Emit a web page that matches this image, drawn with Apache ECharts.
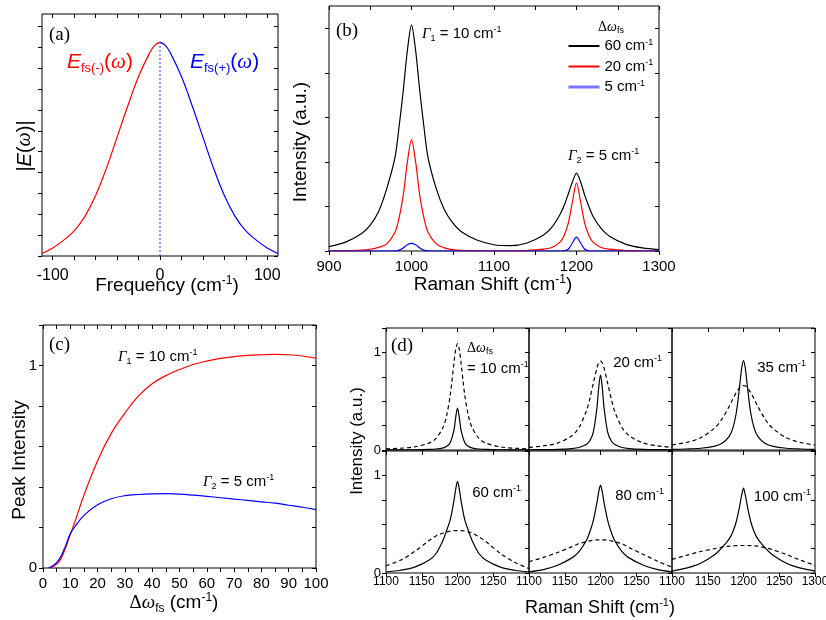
<!DOCTYPE html>
<html><head><meta charset="utf-8">
<script src="https://cdn.jsdelivr.net/npm/echarts@6/dist/echarts.min.js"></script>
<style>html,body{margin:0;padding:0;background:#fff}#c{width:826px;height:620px}</style>
</head><body><div id="c"></div>
<script>
// ---------- Panel (a) data ----------
const aFreqNeg = [-110,-100,-90,-80,-70,-60,-50,-40,-30,-20,-10,-5,0];
const aEneg    = [0.12,0.38,0.75,1.2,1.9,2.9,4.2,5.7,7.2,8.6,9.7,10.1,10.25];
const aFreqPos = [0,5,10,20,30,40,50,60,70,80,90,100,110];
const aEpos    = [10.25,10.1,9.7,8.6,7.2,5.7,4.2,2.9,1.9,1.2,0.75,0.38,0.12];
const aTicksX  = [-100,-80,-60,-40,-20,0,20,40,60,80,100];
const aLabelsX = [-100,0,100];
const aTicksY  = [0,1,2,3,4,5,6,7,8,9,10,11];

// ---------- Panel (b) data ----------
const bShift = [900,920,940,950,960,970,980,985,990,995,1000,1005,1010,1015,1020,1030,1040,1050,1060,1080,1100,1120,1140,1160,1170,1180,1185,1190,1195,1200,1205,1210,1215,1220,1230,1240,1260,1280,1300];
const b60 = [0.10,0.20,0.40,0.58,0.88,1.4,2.1,2.8,3.6,4.5,5.07,4.5,3.6,2.8,2.1,1.4,0.92,0.63,0.44,0.24,0.14,0.12,0.18,0.36,0.53,0.82,1.02,1.28,1.55,1.75,1.55,1.25,1.0,0.78,0.5,0.33,0.15,0.07,0.03];
const b20 = [0,0.005,0.02,0.04,0.08,0.16,0.42,0.75,1.25,2.0,2.5,2.0,1.25,0.75,0.42,0.16,0.07,0.03,0.015,0.005,0,0,0.01,0.04,0.08,0.2,0.35,0.62,1.1,1.53,1.1,0.62,0.35,0.2,0.08,0.04,0.01,0,0];
const b5  = [0,0,0,0,0,0,0,0.02,0.07,0.14,0.17,0.14,0.07,0.02,0.005,0,0,0,0,0,0,0,0,0,0,0,0.005,0.04,0.18,0.31,0.18,0.04,0.005,0,0,0,0,0,0];
const bTicksX  = [900,950,1000,1050,1100,1150,1200,1250,1300];
const bLabelsX = [900,1000,1100,1200,1300];
const bTicksY  = [0,1,2,3,4,5];
const bLegend  = ['60','20','5'];

// ---------- Panel (c) data ----------
const cDw = [2,4,6,8,10,12,15,20,25,30,35,40,45,50,55,60,65,70,75,80,85,90,95,100];
const cG1 = [0,0.01,0.033,0.09,0.165,0.24,0.36,0.53,0.665,0.765,0.85,0.91,0.95,0.98,1.005,1.022,1.035,1.044,1.05,1.053,1.055,1.053,1.047,1.036];
const cG2 = [0,0.015,0.044,0.1,0.17,0.21,0.26,0.312,0.342,0.357,0.363,0.366,0.367,0.365,0.36,0.354,0.347,0.34,0.334,0.327,0.32,0.31,0.3,0.288];
const cTicksX  = [0,5,10,15,20,25,30,35,40,45,50,55,60,65,70,75,80,85,90,95,100];
const cLabelsX = [0,10,20,30,40,50,60,70,80,90,100];
const cTicksY  = [0,0.2,0.4,0.6,0.8,1.0,1.2];
const cLabelsY = [0,1];

// ---------- Panel (d) data ----------
const dShift = [1100,1120,1140,1160,1170,1180,1185,1190,1195,1197.5,1200,1202.5,1205,1210,1215,1220,1230,1240,1260,1280,1300];
const d10s  = [0.001,0.0015,0.0026,0.0058,0.0103,0.0225,0.038,0.078,0.2,0.335,0.43,0.335,0.2,0.078,0.038,0.0225,0.0103,0.0058,0.0026,0.0015,0.001];
const d10d  = [0.012,0.018,0.032,0.07,0.119,0.235,0.36,0.57,0.89,1.03,1.09,1.03,0.89,0.57,0.36,0.235,0.119,0.07,0.032,0.018,0.012];
const d20s  = [0.0024,0.0038,0.0067,0.015,0.026,0.056,0.094,0.184,0.43,0.64,0.77,0.64,0.43,0.184,0.094,0.056,0.026,0.015,0.0067,0.0038,0.0024];
const d20d  = [0.027,0.042,0.071,0.146,0.231,0.395,0.525,0.686,0.841,0.892,0.91,0.892,0.841,0.686,0.525,0.395,0.231,0.146,0.071,0.042,0.027];
const d35s  = [0.0066,0.0102,0.018,0.04,0.068,0.14,0.222,0.384,0.68,0.84,0.915,0.84,0.68,0.384,0.222,0.14,0.068,0.04,0.018,0.0102,0.0066];
const d35d  = [0.051,0.077,0.125,0.228,0.319,0.447,0.52,0.59,0.641,0.655,0.66,0.655,0.641,0.59,0.52,0.447,0.319,0.228,0.125,0.077,0.051];
const d60s  = [0.01,0.028,0.06,0.13,0.2,0.34,0.44,0.55,0.74,0.86,0.94,0.86,0.74,0.55,0.44,0.34,0.2,0.13,0.06,0.028,0.01];
const d60d  = [0.075,0.13,0.22,0.33,0.38,0.41,0.42,0.43,0.435,0.435,0.435,0.435,0.435,0.43,0.42,0.41,0.37,0.32,0.2,0.11,0.045];
const d80s  = [0.012,0.035,0.08,0.155,0.22,0.33,0.42,0.54,0.72,0.83,0.90,0.83,0.72,0.54,0.42,0.33,0.22,0.155,0.08,0.035,0.012];
const d80d  = [0.115,0.16,0.21,0.27,0.30,0.32,0.33,0.335,0.34,0.34,0.34,0.34,0.34,0.335,0.33,0.32,0.30,0.26,0.19,0.12,0.06];
const d100s = [0.02,0.05,0.1,0.19,0.26,0.35,0.42,0.53,0.70,0.80,0.87,0.80,0.70,0.53,0.42,0.35,0.26,0.19,0.1,0.05,0.02];
const d100d = [0.14,0.18,0.22,0.25,0.265,0.275,0.278,0.28,0.282,0.282,0.282,0.282,0.282,0.28,0.278,0.275,0.26,0.24,0.19,0.13,0.08];
const dTicksX   = [1100,1150,1200,1250,1300];
const dLabelsX  = [1100,1150,1200,1250];
const dLabelsX3 = [1100,1150,1200,1250,1300];
const dTicksY   = [0,0.25,0.5,0.75,1.0,1.25];
const dLabelsY  = [0,1];
const dCaptions = ['= 10 cm','20 cm','35 cm','60 cm','80 cm','100 cm'];

// ---------- building ----------
const sans = 'Liberation Sans, Arial, sans-serif';
const serif = 'Liberation Serif, Times New Roman, serif';
const grids = [], xAxes = [], yAxes = [], series = [], texts = [];

function addPanel(rect, xs, ys) {
  const gi = grids.length;
  grids.push({left: rect[0], top: rect[1], width: rect[2], height: rect[3], show: true,
    borderColor: '#000', borderWidth: 1, backgroundColor: 'rgba(0,0,0,0)', containLabel: false, outerBoundsMode: 'none'});
  const tick = (vals, inside) => ({show: true, inside, length: 4, customValues: vals, lineStyle: {color: '#000', width: 1}});
  const lab = (o) => (o.labels ? {show: true, customValues: o.labels, margin: o.margin, fontSize: o.size,
    fontFamily: sans, color: '#000', formatter: v => String(v)} : {show: false});
  const common = {gridIndex: gi, type: 'value', axisLine: {show: false, onZero: false}, splitLine: {show: false}};
  const xi = xAxes.length, yi = yAxes.length;
  xAxes.push(Object.assign({}, common, {position: 'bottom', min: xs.min, max: xs.max, axisTick: tick(xs.ticks, false), axisLabel: lab(xs)}));
  xAxes.push(Object.assign({}, common, {position: 'top', min: xs.min, max: xs.max, axisTick: tick(xs.ticks, true), axisLabel: {show: false}}));
  yAxes.push(Object.assign({}, common, {position: 'left', min: ys.min, max: ys.max, axisTick: tick(ys.ticks, false), axisLabel: lab(ys)}));
  yAxes.push(Object.assign({}, common, {position: 'right', min: ys.min, max: ys.max, axisTick: tick(ys.ticks, true), axisLabel: {show: false}}));
  return {xi, yi};
}
function line(p, xs, ys, color, o) {
  o = o || {};
  series.push({type: 'line', name: o.name, xAxisIndex: p.xi, yAxisIndex: p.yi,
    data: xs.map((x, i) => [x, ys[i]]), symbol: 'none', smooth: o.smooth === undefined ? 0.3 : o.smooth,
    lineStyle: {color, width: o.w || 1.2, type: o.type || 'solid'}, itemStyle: {color}, silent: true, z: o.z || 2});
}
function rich(F) {
  const s = Math.round(F * 0.62), L = Math.round(F * 1.2);
  return {
    n: {fontFamily: sans, fontSize: F, lineHeight: L},
    i: {fontFamily: sans, fontSize: F, fontStyle: 'italic', lineHeight: L},
    g: {fontFamily: serif, fontSize: F, fontStyle: 'italic', lineHeight: L},
    gu: {fontFamily: serif, fontSize: F, lineHeight: L},
    sup: {fontFamily: sans, fontSize: s, lineHeight: s, verticalAlign: 'top'},
    sub: {fontFamily: sans, fontSize: s, lineHeight: s, verticalAlign: 'bottom'}
  };
}
function txt(x, y, text, F, o) {
  o = o || {};
  texts.push({type: 'text', x, y, rotation: o.rot || 0, z: 100, silent: true,
    style: {text, fill: o.color || '#000', fontFamily: o.font || sans, fontSize: F,
      align: o.align || 'left', verticalAlign: 'middle', rich: rich(F)}});
}

// Panel (a)
const pa = addPanel([42, 14, 236, 242], {min: -110, max: 110, ticks: aTicksX, labels: aLabelsX, margin: 12, size: 16},
  {min: 0, max: 11.6, ticks: aTicksY});
line(pa, aFreqNeg, aEneg, '#ff0000', {smooth: 0.4});
line(pa, aFreqPos, aEpos, '#0000ff', {smooth: 0.4});
series.push({type: 'line', xAxisIndex: pa.xi, yAxisIndex: pa.yi, symbol: 'none', silent: true,
  data: [[aFreqPos[0], 0], [aFreqPos[0], aEpos[0]]], lineStyle: {color: '#3333ff', width: 1, type: [2, 2]}});

// Panel (b)
const pb = addPanel([329, 6, 330, 245], {min: 900, max: 1300, ticks: bTicksX, labels: bLabelsX, margin: 8, size: 15},
  {min: 0, max: 5.5, ticks: bTicksY});
line(pb, bShift, b60, '#000000', {name: bLegend[0]});
line(pb, bShift, b20, '#ff0000', {name: bLegend[1]});
line(pb, bShift, b5, '#0000ff', {name: bLegend[2]});

// Panel (c)
const pc = addPanel([43, 325, 273, 243], {min: 0, max: 100, ticks: cTicksX, labels: cLabelsX, margin: 8, size: 15},
  {min: 0, max: 1.2, ticks: cTicksY, labels: cLabelsY, margin: 6, size: 15});
line(pc, cDw, cG1, '#ff0000', {smooth: 0.4});
line(pc, cDw, cG2, '#0000ff', {smooth: 0.4});

// Panel (d)
const cols = [386, 529, 672], rows = [328, 451];
const dSolid = [d10s, d20s, d35s, d60s, d80s, d100s];
const dDash = [d10d, d20d, d35d, d60d, d80d, d100d];
for (let r = 0; r < 2; r++) {
  for (let c = 0; c < 3; c++) {
    const k = r * 3 + c;
    const xs = {min: 1100, max: 1300, ticks: dTicksX};
    if (r === 1) { xs.labels = c === 2 ? dLabelsX3 : dLabelsX; xs.margin = 3; xs.size = 12; }
    const ys = {min: 0, max: 1.25, ticks: dTicksY};
    if (c === 0) { ys.labels = dLabelsY; ys.margin = 5; ys.size = 13; }
    const p = addPanel([cols[c], rows[r], 143, 122], xs, ys);
    line(p, dShift, dDash[k], '#000', {type: [4, 3], smooth: 0.3});
    line(p, dShift, dSolid[k], '#000', {smooth: 0.3});
  }
}

// ---------- texts ----------
// (a)
txt(49, 35, '(a)', 19, {font: serif});
txt(67, 62, '{i|E}{sub|fs(-)}{n|(}{g|ω}{n|)}', 21, {color: '#ff0000'});
txt(190, 62, '{i|E}{sub|fs(+)}{n|(}{g|ω}{n|)}', 21, {color: '#0000ff'});
txt(25, 146, '{n||}{i|E}{n|(}{g|ω}{n|)|}', 20, {align: 'center', rot: Math.PI / 2});
txt(167, 286, '{n|Frequency (cm}{sup|-1}{n|)}', 19, {align: 'center'});
// (b)
txt(336, 31, '(b)', 19, {font: serif});
txt(422, 34, '{g|Γ}{sub|1}{n| = 10 cm}{sup|-1}', 15);
txt(568, 156, '{g|Γ}{sub|2}{n| = 5 cm}{sup|-1}', 15);
txt(598, 27, '{gu|Δ}{g|ω}{sub|fs}', 14);
txt(301, 142, '{n|Intensity (a.u.)}', 19, {align: 'center', rot: Math.PI / 2});
txt(493, 285, '{n|Raman Shift (cm}{sup|-1}{n|)}', 19, {align: 'center'});
// (c)
txt(49, 345, '(c)', 19, {font: serif});
txt(118, 357, '{g|Γ}{sub|1}{n| = 10 cm}{sup|-1}', 15);
txt(203, 482, '{g|Γ}{sub|2}{n| = 5 cm}{sup|-1}', 15);
txt(20, 460, '{n|Peak Intensity}', 19, {align: 'center', rot: Math.PI / 2});
txt(174, 603, '{gu|Δ}{g|ω}{sub|fs}{n| (cm}{sup|-1}{n|)}', 19, {align: 'center'});
// (d)
txt(391, 346, '(d)', 19, {font: serif});
txt(467, 348, '{gu|Δ}{g|ω}{sub|fs}', 14);
txt(467, 369, '{n|' + dCaptions[0] + '}{sup|-1}', 15);
txt(662, 363, '{n|' + dCaptions[1] + '}{sup|-1}', 15, {align: 'right'});
txt(806, 368, '{n|' + dCaptions[2] + '}{sup|-1}', 15, {align: 'right'});
txt(521, 493, '{n|' + dCaptions[3] + '}{sup|-1}', 15, {align: 'right'});
txt(664, 496, '{n|' + dCaptions[4] + '}{sup|-1}', 15, {align: 'right'});
txt(811, 497, '{n|' + dCaptions[5] + '}{sup|-1}', 15, {align: 'right'});
txt(357, 441, '{n|Intensity (a.u.)}', 17, {align: 'center', rot: Math.PI / 2});
txt(600, 608, '{n|Raman Shift (cm}{sup|-1}{n|)}', 18, {align: 'center'});

const chart = echarts.init(document.getElementById('c'), null, {renderer: 'canvas'});
chart.setOption({
  animation: false,
  backgroundColor: '#fff',
  grid: grids, xAxis: xAxes, yAxis: yAxes, series,
  legend: {
    data: [{name: bLegend[0]}, {name: bLegend[1]}, {name: bLegend[2], lineStyle: {width: 3, color: '#7777ff'}}],
    orient: 'vertical', left: 567, top: 38, itemWidth: 31, itemHeight: 14, itemGap: 5, padding: 0,
    selectedMode: false,
    itemStyle: {color: 'rgba(0,0,0,0)', borderWidth: 0, opacity: 0},
    formatter: n => '{n|' + n + ' cm}{s|-1}',
    textStyle: {color: '#000', fontFamily: sans, fontSize: 15,
      rich: {n: {fontSize: 15, lineHeight: 16, fontFamily: sans, color: '#000'},
             s: {fontSize: 9, lineHeight: 9, verticalAlign: 'top', fontFamily: sans, color: '#000'}}}
  },
  graphic: {elements: texts}
});
</script>
</body></html>
